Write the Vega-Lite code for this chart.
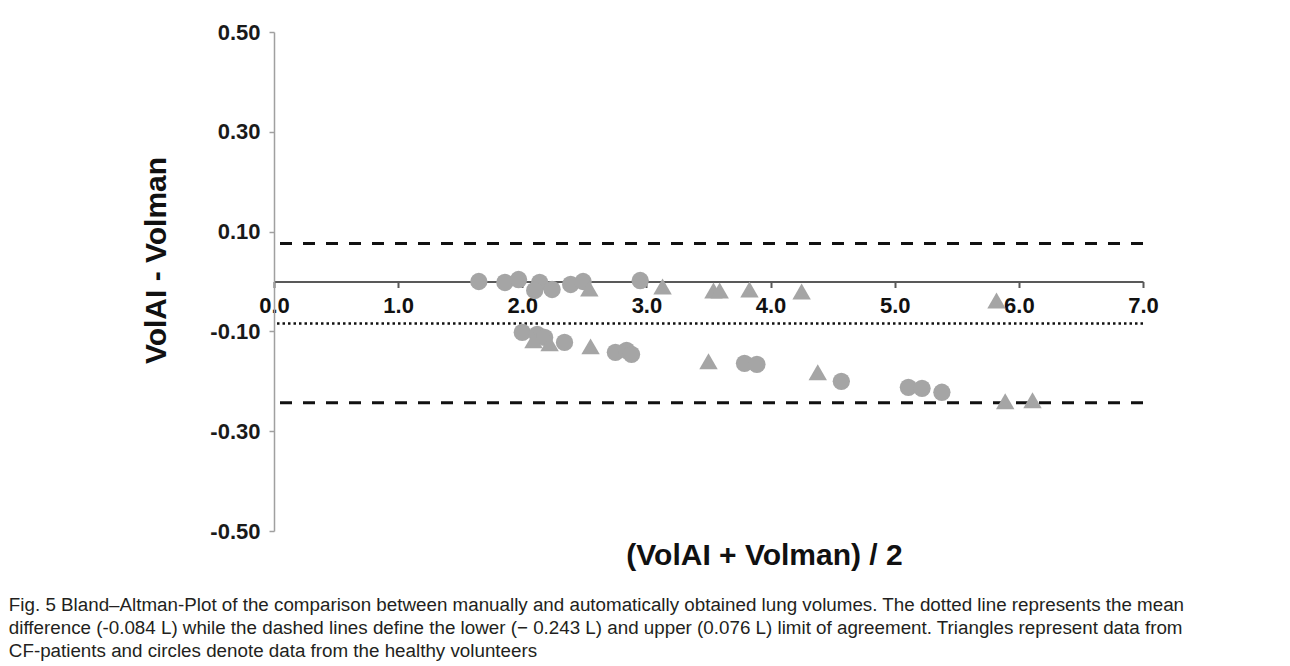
{
  "$schema": "https://vega.github.io/schema/vega-lite/v6.json",
  "width": 869,
  "height": 499,
  "padding": {"left": 8, "top": 21, "right": 5, "bottom": 0},
  "background": "white",
  "config": {"view": {"stroke": null}, "font": "Liberation Sans"},
  "title": {
    "text": [
      "Fig. 5  Bland–Altman-Plot of the comparison between manually and automatically obtained lung volumes. The dotted line represents the mean",
      "difference (-0.084 L) while the dashed lines define the lower (− 0.243 L) and upper (0.076 L) limit of agreement. Triangles represent data from",
      "CF-patients and circles denote data from the healthy volunteers"
    ],
    "orient": "bottom",
    "anchor": "start",
    "frame": "bounds",
    "font": "Liberation Sans",
    "fontSize": 18.8,
    "fontWeight": "normal",
    "color": "#231f20",
    "lineHeight": 23,
    "dx": -133,
    "offset": 25
  },
  "datasets": {
    "limits": [
      {"kind": "upper limit of agreement", "diff": 0.076},
      {"kind": "mean", "diff": -0.084},
      {"kind": "lower limit of agreement", "diff": -0.243}
    ],
    "points": [
      {"group": "healthy volunteers", "mean": 1.65, "diff": 0.000},
      {"group": "healthy volunteers", "mean": 1.86, "diff": -0.002},
      {"group": "healthy volunteers", "mean": 1.97, "diff": 0.004},
      {"group": "healthy volunteers", "mean": 2.14, "diff": -0.002},
      {"group": "healthy volunteers", "mean": 2.10, "diff": -0.018},
      {"group": "healthy volunteers", "mean": 2.24, "diff": -0.016},
      {"group": "healthy volunteers", "mean": 2.39, "diff": -0.006},
      {"group": "healthy volunteers", "mean": 2.49, "diff": 0.000},
      {"group": "healthy volunteers", "mean": 2.95, "diff": 0.002},
      {"group": "healthy volunteers", "mean": 2.00, "diff": -0.102},
      {"group": "healthy volunteers", "mean": 2.12, "diff": -0.106},
      {"group": "healthy volunteers", "mean": 2.18, "diff": -0.112},
      {"group": "healthy volunteers", "mean": 2.34, "diff": -0.122},
      {"group": "healthy volunteers", "mean": 2.75, "diff": -0.142},
      {"group": "healthy volunteers", "mean": 2.84, "diff": -0.138},
      {"group": "healthy volunteers", "mean": 2.88, "diff": -0.146},
      {"group": "healthy volunteers", "mean": 3.79, "diff": -0.164},
      {"group": "healthy volunteers", "mean": 3.89, "diff": -0.166},
      {"group": "healthy volunteers", "mean": 4.57, "diff": -0.200},
      {"group": "healthy volunteers", "mean": 5.11, "diff": -0.212},
      {"group": "healthy volunteers", "mean": 5.22, "diff": -0.214},
      {"group": "healthy volunteers", "mean": 5.38, "diff": -0.222},
      {"group": "CF-patients", "mean": 2.54, "diff": -0.014},
      {"group": "CF-patients", "mean": 3.13, "diff": -0.010},
      {"group": "CF-patients", "mean": 3.54, "diff": -0.018},
      {"group": "CF-patients", "mean": 3.59, "diff": -0.018},
      {"group": "CF-patients", "mean": 3.83, "diff": -0.016},
      {"group": "CF-patients", "mean": 4.25, "diff": -0.020},
      {"group": "CF-patients", "mean": 5.82, "diff": -0.038},
      {"group": "CF-patients", "mean": 2.09, "diff": -0.118},
      {"group": "CF-patients", "mean": 2.22, "diff": -0.124},
      {"group": "CF-patients", "mean": 2.55, "diff": -0.130},
      {"group": "CF-patients", "mean": 3.50, "diff": -0.160},
      {"group": "CF-patients", "mean": 4.38, "diff": -0.182},
      {"group": "CF-patients", "mean": 5.89, "diff": -0.240},
      {"group": "CF-patients", "mean": 6.11, "diff": -0.238}
    ]
  },
  "layer": [
    {
      "data": {"name": "limits"},
      "transform": [{"filter": "datum.kind != 'mean'"}],
      "mark": {"type": "rule", "color": "#111111", "strokeWidth": 3, "strokeDash": [12, 11]},
      "encoding": {"y": {"field": "diff", "type": "quantitative"}}
    },
    {
      "data": {"name": "limits"},
      "transform": [{"filter": "datum.kind == 'mean'"}],
      "mark": {"type": "rule", "color": "#111111", "strokeWidth": 2.5, "strokeDash": [2.5, 3]},
      "encoding": {"y": {"field": "diff", "type": "quantitative"}}
    },
    {
      "data": {"name": "points"},
      "mark": {"type": "point", "filled": true, "opacity": 1, "color": "#a5a5a5"},
      "encoding": {
        "x": {
          "field": "mean",
          "type": "quantitative",
          "scale": {"domain": [0, 7], "nice": false, "zero": false},
          "axis": {
            "values": [0, 1, 2, 3, 4, 5, 6, 7],
            "format": ".1f",
            "offset": -249.5,
            "grid": false,
            "domainColor": "#595959",
            "domainWidth": 2,
            "tickColor": "#595959",
            "tickWidth": 2,
            "tickSize": 6,
            "labelFont": "Liberation Sans",
            "labelFontSize": 22,
            "labelFontWeight": "bold",
            "labelColor": "#111111",
            "labelPadding": 8,
            "labelFlush": false,
            "labelOverlap": false,
            "title": "(VolAI + Volman) / 2",
            "titleFont": "Liberation Sans",
            "titleFontSize": 30,
            "titleFontWeight": "bold",
            "titleColor": "#111111",
            "titleX": 490,
            "titleY": 283,
            "titleBaseline": "alphabetic",
            "titleAlign": "center"
          }
        },
        "y": {
          "field": "diff",
          "type": "quantitative",
          "scale": {"domain": [-0.5, 0.5], "nice": false, "zero": false},
          "axis": {
            "values": [-0.5, -0.3, -0.1, 0.1, 0.3, 0.5],
            "labelExpr": "replace(format(datum.value, '.2f'), '−', '-')",
            "grid": false,
            "domainColor": "#a0a0a0",
            "domainWidth": 1.5,
            "tickColor": "#a0a0a0",
            "tickWidth": 1.5,
            "tickSize": 5,
            "labelFont": "Liberation Sans",
            "labelFontSize": 22,
            "labelFontWeight": "bold",
            "labelColor": "#1a1a1a",
            "labelPadding": 9,
            "labelFlush": false,
            "labelOverlap": false,
            "title": "VolAI - Volman",
            "titleFont": "Liberation Sans",
            "titleFontSize": 30,
            "titleFontWeight": "bold",
            "titleColor": "#111111",
            "titlePadding": 38,
            "titleY": 228
          }
        },
        "shape": {
          "field": "group",
          "type": "nominal",
          "scale": {"domain": ["CF-patients", "healthy volunteers"], "range": ["triangle-up", "circle"]},
          "legend": null
        },
        "size": {
          "field": "group",
          "type": "nominal",
          "scale": {"domain": ["CF-patients", "healthy volunteers"], "range": [340, 300]},
          "legend": null
        }
      }
    }
  ]
}
